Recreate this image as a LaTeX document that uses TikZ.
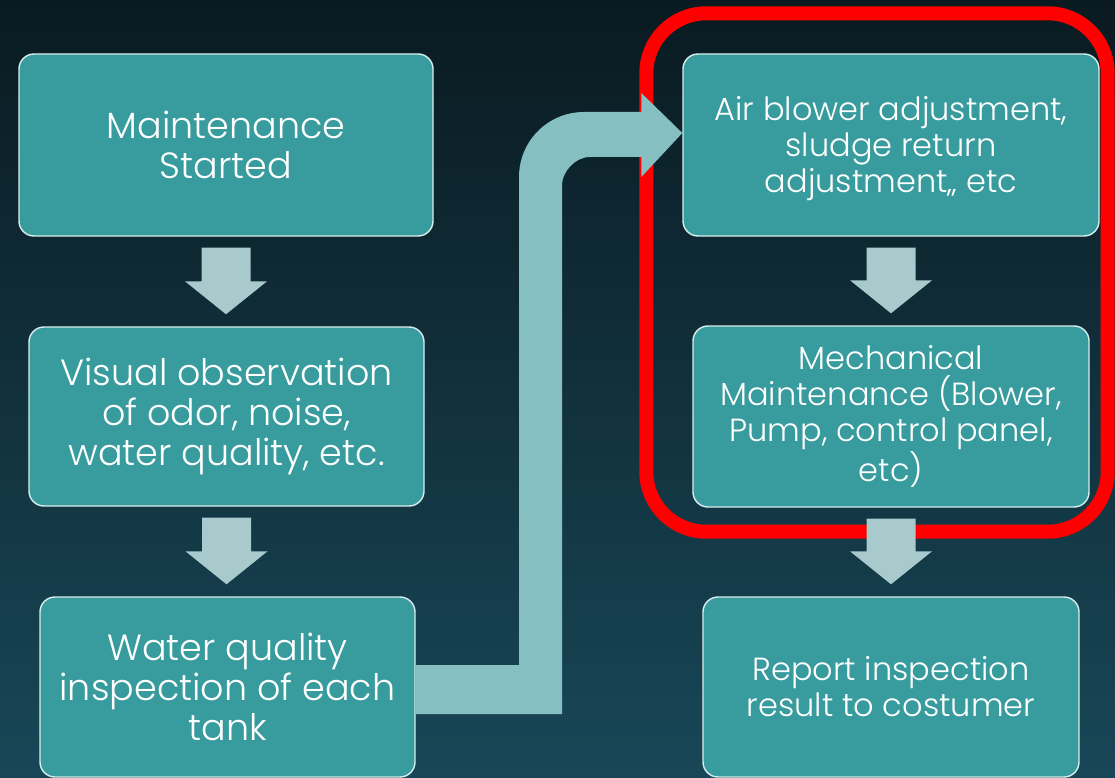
\documentclass[tikz,border=0pt]{standalone}
\usepackage{fontspec}
\setmainfont{Poppins}[UprightFont=* Light]
\usetikzlibrary{calc}
\definecolor{bgDark}{HTML}{0A1A21}
\definecolor{bgLight}{HTML}{184757}
\definecolor{tealBox}{HTML}{389B9D}
\definecolor{edgeBox}{HTML}{D8EEEE}
\definecolor{arrowS}{HTML}{A9CACC}
\definecolor{arrowB}{HTML}{86BFC2}
\definecolor{redMark}{HTML}{FF0000}

\tikzset{
  stage/.style={draw=edgeBox,line width=1.4pt,fill=tealBox,text=white,
    rounded corners=15pt,align=center,inner sep=0pt},
  stageL/.style={stage,font=\fontsize{36.5}{40}\selectfont},
  stageR/.style={stage,font=\fontsize{32}{36}\selectfont}
}
\newcommand{\stagearrow}[2]{%
  \fill[arrowS] ($(#1.south)+(-24.5,11)$) -- ($(#1.south)+(24.5,11)$)
    -- ($(#1.south |- #2.north)+(24.5,-45)$) -- ($(#1.south |- #2.north)+(41,-45)$)
    -- ($(#1.south |- #2.north)+(0,-12)$) -- ($(#1.south |- #2.north)+(-41,-45)$)
    -- ($(#1.south |- #2.north)+(-24.5,-45)$) -- cycle;}

\begin{document}
\begin{tikzpicture}[x=1pt,y=-1pt]
  \useasboundingbox (0,0) rectangle (1115,778);
  \shade[shading angle=-35,top color=bgDark,bottom color=bgLight] (0,0) rectangle (1115,778);

  \node[stageL,minimum width=414pt,minimum height=182pt] (start) at (226,145) {Maintenance\\Started};
  \node[stageL,minimum width=395pt,minimum height=179pt] (visual) at (226.5,416.5) {Visual observation\\of odor, noise,\\water quality, etc.};
  \node[stageL,minimum width=375pt,minimum height=180pt] (tank) at (227.5,687) {Water quality\\inspection of each\\tank};
  \node[stageR,minimum width=416pt,minimum height=182pt,text depth=2pt] (blower) at (891,145) {Air blower adjustment,\\sludge return\\adjustment,, etc};
  \node[stageR,minimum width=396pt,minimum height=181pt] (mech) at (891,416.5) {Mechanical\\Maintenance (Blower,\\Pump, control panel,\\etc)};
  \node[stageR,minimum width=376pt,minimum height=180pt] (report) at (891,687) {Report inspection\\result to costumer};

  \draw[redMark,line width=14pt,rounded corners=60pt]
    ($(blower.north west)+(-36,-40)$) rectangle ($(mech.south -| blower.east)+(8,24)$);

  \coordinate (riser) at (540.5,0);
  \fill[arrowB] ($(tank.east)+(0,-22)$) -- ($(riser |- tank.east)+(-21.5,-22)$)
    -- ($(riser |- blower.west)+(-21.5,32)$)
    .. controls ($(riser |- blower.west)+(-21.5,-4)$) and ($(riser |- blower.west)+(7.5,-33)$)
    .. ($(riser |- blower.west)+(43.5,-33)$)
    -- ($(blower.west)+(-41,-33)$) -- ($(blower.west)+(-41,-52)$)
    -- ($(blower.west)+(0,-12)$)
    -- ($(blower.west)+(-41,32)$) -- ($(blower.west)+(-41,12)$)
    -- ($(riser |- blower.west)+(49.5,12)$)
    .. controls ($(riser |- blower.west)+(34,12)$) and ($(riser |- blower.west)+(21.5,27.5)$)
    .. ($(riser |- blower.west)+(21.5,40)$)
    -- ($(riser |- tank.east)+(21.5,27)$) -- ($(tank.east)+(0,27)$) -- cycle;

  \stagearrow{start}{visual}
  \stagearrow{visual}{tank}
  \stagearrow{blower}{mech}
  \stagearrow{mech}{report}
\end{tikzpicture}
\end{document}
